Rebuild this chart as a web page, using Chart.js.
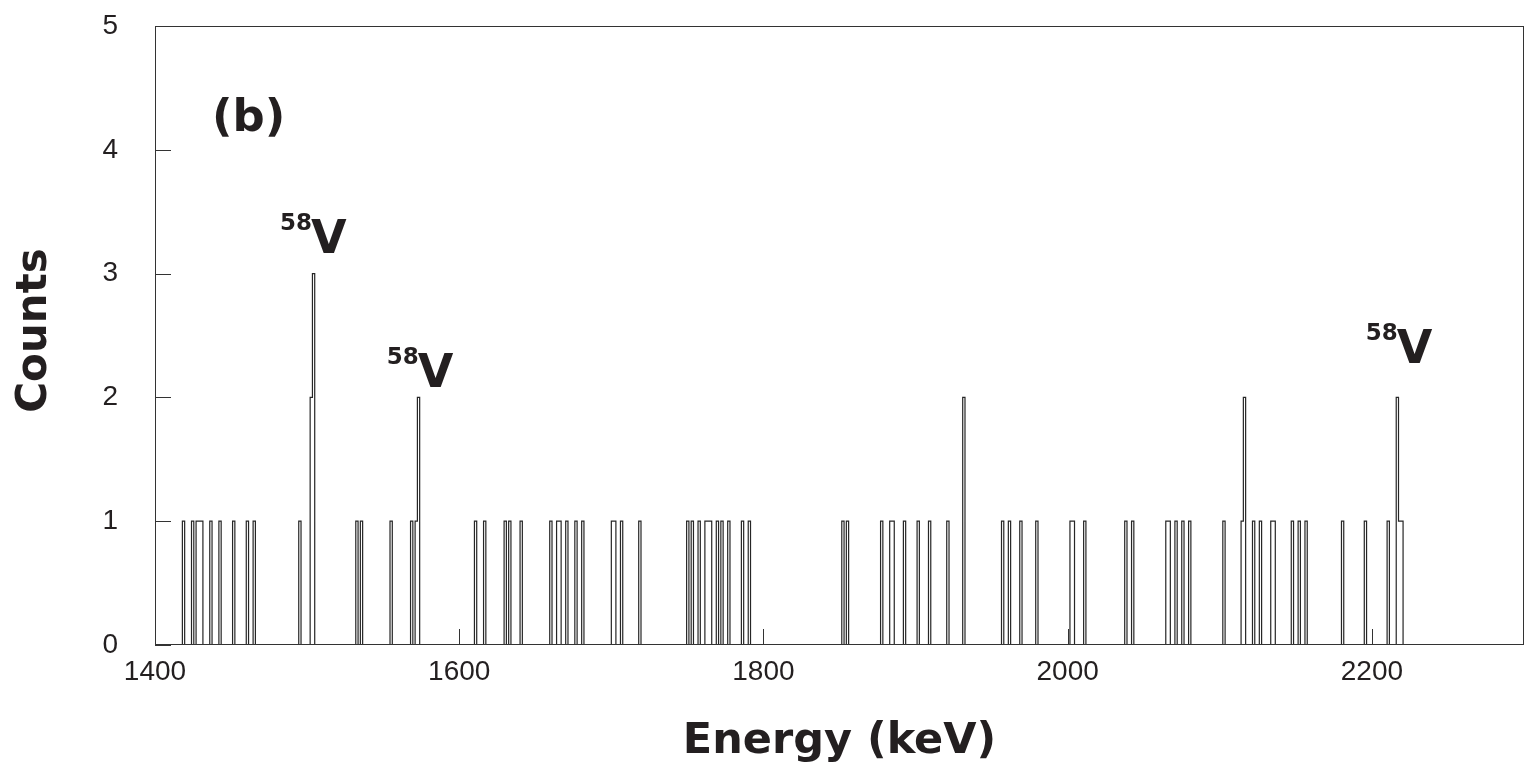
<!DOCTYPE html>
<html>
<head>
<meta charset="utf-8">
<script src="https://cdn.jsdelivr.net/npm/chart.js@4.4.1/dist/chart.umd.min.js"></script>
<style>
  body { margin: 0; background: #fff; }
  canvas { display: block; }
</style>
</head>
<body>
<canvas id="spectrum" width="1536" height="773"></canvas>
<script>
// energies (keV) of the non-empty bins and their counts
const peakEnergies = [
  1418.2, 1424.7, 1426.3, 1429.1, 1430.0, 1435.7, 1442.7, 1450.8, 1460.6, 1464.8,
  1494.8, 1502.5, 1504.0, 1531.8, 1535.7, 1554.3, 1567.5, 1571.0, 1572.5,
  1610.2, 1616.3, 1629.4, 1632.7, 1639.3, 1659.4, 1663.8, 1665.4, 1669.5, 1675.9,
  1680.9, 1700.6, 1702.0, 1706.7, 1717.5, 1749.6, 1752.0, 1756.4, 1760.8, 1762.3,
  1763.8, 1769.1, 1772.4, 1777.2, 1785.5, 1790.3,
  1851.0, 1854.7, 1876.8, 1883.2, 1884.9, 1891.9, 1901.6, 1908.2, 1921.1, 1930.3,
  1956.1, 1961.1, 1968.1, 1978.4,
  2002.1, 2003.6, 2010.2, 2037.1, 2042.1, 2064.5, 2066.0, 2071.0, 2074.3, 2079.1,
  2102.3, 2113.3, 2115.9, 2121.0, 2126.4, 2133.0, 2134.5, 2147.3, 2152.1, 2156.5,
  2180.1, 2195.0, 2209.4, 2216.5, 2218.0, 2219.5
];
const peakCounts = [
  1, 1, 1, 1, 1, 1, 1, 1, 1, 1,
  1, 2, 3, 1, 1, 1, 1, 1, 2,
  1, 1, 1, 1, 1, 1, 1, 1, 1, 1,
  1, 1, 1, 1, 1, 1, 1, 1, 1, 1,
  1, 1, 1, 1, 1, 1,
  1, 1, 1, 1, 1, 1, 1, 1, 1, 2,
  1, 1, 1, 1,
  1, 1, 1, 1, 1, 1, 1, 1, 1, 1,
  1, 1, 2, 1, 1, 1, 1, 1, 1, 1,
  1, 1, 1, 2, 1, 1
];
const xTickValues = [1400, 1600, 1800, 2000, 2200];
const yTickValues = [0, 1, 2, 3, 4, 5];

const eMin = 1400, eMax = 2300, binWidth = 1.5;

// histogram on a regular grid, empty bins stay at 0
const hist = [];
for (let e = eMin; e < eMax; e += binWidth) hist.push(0);
peakEnergies.forEach((e, i) => {
  const k = Math.round((e - eMin) / binWidth);
  hist[k] = Math.max(hist[k], peakCounts[i]);
});
const points = hist.map((c, k) => ({ x: eMin + k * binWidth, y: c }));
points.push({ x: eMax, y: 0 });

const ink = '#231f20';
const boldFont = '"DejaVu Sans", Verdana, sans-serif';

// 58V labels, anchored in data units (left edge of the V, baseline)
const isotopeLabels = [
  { e: 1503.8, c: 3.17 },
  { e: 1574.0, c: 2.08 },
  { e: 2217.7, c: 2.28 }
];

const framePlugin = {
  id: 'frame',
  afterDraw(chart) {
    const { ctx, chartArea: a, scales } = chart;
    ctx.save();
    ctx.strokeStyle = '#333';
    ctx.lineWidth = 1;
    ctx.strokeRect(a.left + 0.5, a.top + 0.5, a.right - a.left - 1, a.bottom - a.top - 1);

    // inward ticks
    ctx.beginPath();
    yTickValues.forEach(v => {
      const y = Math.round(scales.y.getPixelForValue(v)) + 0.5;
      ctx.moveTo(a.left, y);
      ctx.lineTo(a.left + 16, y);
    });
    xTickValues.forEach(v => {
      const x = Math.round(scales.x.getPixelForValue(v)) + 0.5;
      ctx.moveTo(x, a.bottom);
      ctx.lineTo(x, a.bottom - 16);
    });
    ctx.stroke();

    ctx.fillStyle = ink;
    // panel letter
    ctx.font = 'bold 45px ' + boldFont;
    ctx.textAlign = 'left';
    ctx.textBaseline = 'middle';
    ctx.fillText('(b)', 212, 119);

    // isotope labels
    ctx.textBaseline = 'alphabetic';
    isotopeLabels.forEach(l => {
      const x = scales.x.getPixelForValue(l.e);
      const y = scales.y.getPixelForValue(l.c);
      ctx.font = 'bold 46px ' + boldFont;
      ctx.textAlign = 'left';
      ctx.fillText('V', x - 2, y);
      ctx.font = 'bold 23px ' + boldFont;
      ctx.textAlign = 'right';
      ctx.fillText('58', x - 1, y - 23);
    });

    // axis titles
    ctx.font = 'bold 42px ' + boldFont;
    ctx.textAlign = 'center';
    ctx.textBaseline = 'middle';
    ctx.save();
    ctx.translate(35, (a.top + a.bottom) / 2 - 5);
    ctx.rotate(-Math.PI / 2);
    ctx.fillText('Counts', 0, 0);
    ctx.restore();
    ctx.font = 'bold 43px ' + boldFont;
    ctx.fillText('Energy (keV)', (a.left + a.right) / 2, 742);
    ctx.restore();
  }
};

new Chart(document.getElementById('spectrum'), {
  type: 'line',
  data: {
    datasets: [{
      data: points,
      stepped: 'before',
      borderColor: '#262626',
      borderWidth: 1.2,
      pointRadius: 0,
      fill: false
    }]
  },
  options: {
    responsive: false,
    animation: false,
    layout: { padding: { top: 26, right: 12, left: 0, bottom: 0 } },
    plugins: { legend: { display: false }, tooltip: { enabled: false } },
    scales: {
      x: {
        type: 'linear',
        min: eMin,
        max: eMax,
        afterBuildTicks: s => { s.ticks = xTickValues.map(v => ({ value: v })); },
        afterFit: s => { s.height = 128; s.paddingLeft = 0; s.paddingRight = 0; },
        grid: { display: false, drawTicks: false, tickLength: 0 },
        border: { display: false },
        ticks: {
          padding: 10,
          maxRotation: 0,
          color: ink,
          callback: v => String(v),
          font: { family: '"Liberation Sans", Arial, sans-serif', size: 28 }
        }
      },
      y: {
        min: 0,
        max: 5,
        afterBuildTicks: s => { s.ticks = yTickValues.map(v => ({ value: v })); },
        afterFit: s => { s.width = 155; s.paddingTop = 0; s.paddingBottom = 0; },
        grid: { display: false, drawTicks: false, tickLength: 0 },
        border: { display: false },
        ticks: {
          padding: 37,
          color: ink,
          callback: v => String(v),
          font: { family: '"Liberation Sans", Arial, sans-serif', size: 28 }
        }
      }
    }
  },
  plugins: [framePlugin]
});
</script>
</body>
</html>
